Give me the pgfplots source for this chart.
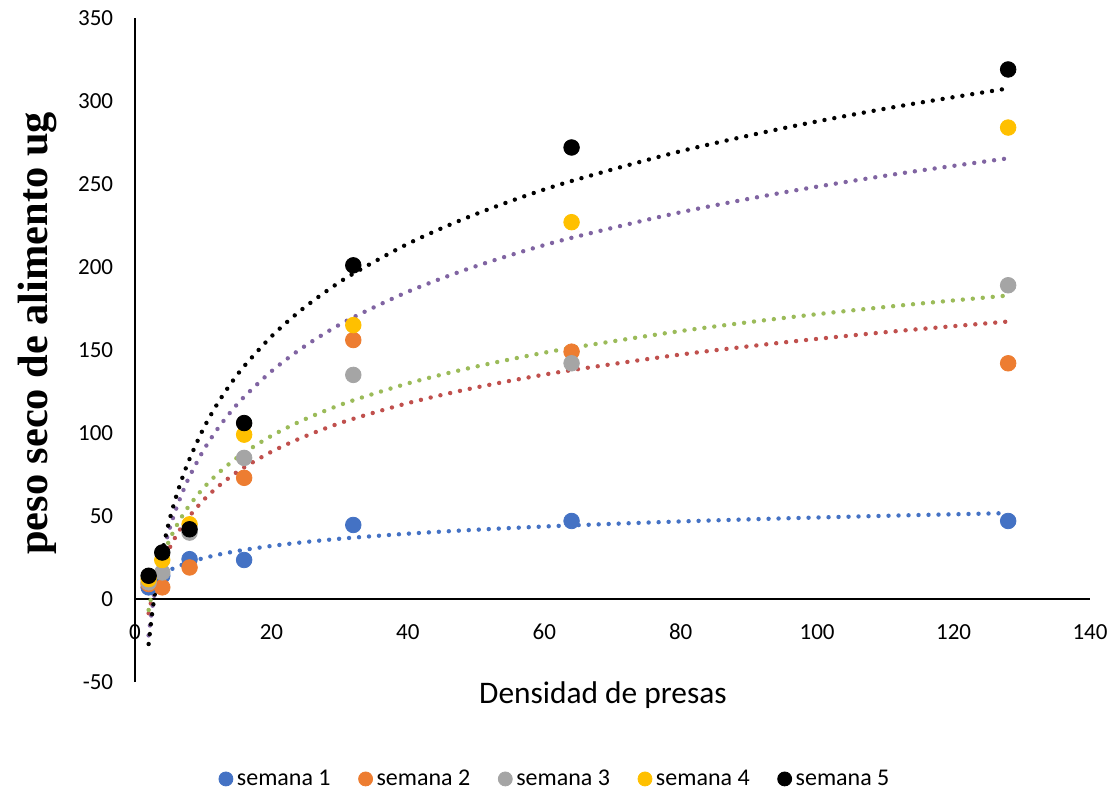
\documentclass[border=0pt]{standalone}
\usepackage{pgfplots}
\pgfplotsset{compat=1.18}
\usepackage{fontspec}
\setmainfont{Carlito}
\newfontfamily\serifbold{Liberation Serif}
\definecolor{c1}{HTML}{4472C4}
\definecolor{c2}{HTML}{ED7D31}
\definecolor{c3}{HTML}{A5A5A5}
\definecolor{c4}{HTML}{FFC000}
\definecolor{c5}{HTML}{000000}
\definecolor{t2}{HTML}{C0504D}
\definecolor{t3}{HTML}{9BBB59}
\definecolor{t4}{HTML}{8064A2}
\begin{document}
\begin{tikzpicture}
\begin{axis}[
  width=477.5pt, height=332pt, scale only axis,
  xmin=0, xmax=140, ymin=-50, ymax=350,
  axis x line=middle, axis y line=left,
  axis line style={-, black, line width=0.9pt},
  hide obscured x ticks=false, hide obscured y ticks=false,
  xtick={0,20,...,140}, ytick={-50,0,...,350},
  major tick length=0pt,
  /pgf/number format/assume math mode=true,
  tick label style={font=\fontsize{11.5}{13}\selectfont, black},
  xticklabel style={anchor=center, yshift=-16.5pt},
  yticklabel style={anchor=east, xshift=-7.4pt},
  xlabel={Densidad de presas},
  xlabel style={at={(rel axis cs:0.49,0)}, anchor=center, yshift=-6.5pt, font=\fontsize{15.7}{18}\selectfont},
  ylabel={\serifbold\bfseries peso seco de alimento ug},
  ylabel style={at={(axis description cs:-0.102,0.525)}, anchor=center, rotate=0, font=\fontsize{21.2}{25}\selectfont},
  clip=false,
  legend columns=5,
  legend style={at={(rel axis cs:0.441,-0.146)}, anchor=center, draw=none, fill=none,
    font=\fontsize{12}{14}\selectfont,
    /tikz/every even column/.append style={column sep=12pt}},
  legend cell align=left,
  legend image code/.code={\draw[#1, mark size=3.5pt] plot coordinates {(0pt,0pt)};},
]
\coordinate (A) at (rel axis cs:0,0);
\coordinate (B) at (rel axis cs:1,1);
% data points
\addplot[only marks, mark=*, mark size=3.9pt, color=c1] coordinates {(2,7) (4,14) (8,24) (16,23.5) (32,44.6) (64,47) (128,47)};
\addlegendentry{semana 1}
\addplot[only marks, mark=*, mark size=3.9pt, color=c2] coordinates {(2,9) (4,7) (8,19) (16,73) (32,156) (64,149) (128,142)};
\addlegendentry{semana 2}
\addplot[only marks, mark=*, mark size=3.9pt, color=c3] coordinates {(2,10) (4,16) (8,40) (16,85) (32,135) (64,142) (128,189)};
\addlegendentry{semana 3}
\addplot[only marks, mark=*, mark size=3.9pt, color=c4] coordinates {(2,12) (4,23.5) (8,45) (16,99) (32,165) (64,227) (128,284)};
\addlegendentry{semana 4}
\addplot[only marks, mark=*, mark size=3.9pt, color=c5] coordinates {(2,14) (4,28) (8,42) (16,106) (32,201) (64,272) (128,319)};
\addlegendentry{semana 5}
% logarithmic trend lines
\pgfplotsset{trend/.style={no markers, smooth, line width=2.2pt, line cap=round, dash pattern=on 0pt off 5pt, forget plot}}
\addplot[trend, c1] coordinates {(2,7.44) (2.5,9.82) (3,11.76) (3.5,13.40) (4,14.82) (5,17.20) (6,19.14) (7,20.78) (8,22.21) (10,24.58) (12,26.52) (14,28.17) (16,29.59) (20,31.96) (24,33.91) (28,35.55) (32,36.97) (40,39.35) (48,41.29) (56,42.93) (64,44.35) (80,46.73) (96,48.67) (112,50.31) (128,51.73)};
\addplot[trend, t2] coordinates {(2,-8.58) (2.5,0.85) (3,8.56) (3.5,15.07) (4,20.71) (5,30.14) (6,37.84) (7,44.35) (8,49.99) (10,59.42) (12,67.13) (14,73.64) (16,79.28) (20,88.71) (24,96.41) (28,102.93) (32,108.57) (40,118.00) (48,125.70) (56,132.21) (64,137.85) (80,147.28) (96,154.98) (112,161.50) (128,167.14)};
\addplot[trend, t3] coordinates {(2,-6.60) (2.5,3.57) (3,11.87) (3.5,18.90) (4,24.98) (5,35.14) (6,43.45) (7,50.47) (8,56.55) (10,66.71) (12,75.02) (14,82.04) (16,88.12) (20,98.28) (24,106.59) (28,113.61) (32,119.69) (40,129.86) (48,138.16) (56,145.19) (64,151.27) (80,161.43) (96,169.73) (112,176.76) (128,182.84)};
\addplot[trend, t4] coordinates {(2,-21.91) (2.5,-6.48) (3,6.11) (3.5,16.77) (4,25.99) (5,41.41) (6,54.01) (7,64.66) (8,73.89) (10,89.31) (12,101.91) (14,112.56) (16,121.79) (20,137.20) (24,149.81) (28,160.46) (32,169.68) (40,185.10) (48,197.70) (56,208.36) (64,217.58) (80,233.00) (96,245.59) (112,256.25) (128,265.47)};
\addplot[trend, c5] coordinates {(2,-27.12) (2.5,-9.16) (3,5.52) (3.5,17.93) (4,28.67) (5,46.62) (6,61.30) (7,73.71) (8,84.45) (10,102.41) (12,117.08) (14,129.49) (16,140.24) (20,158.19) (24,172.87) (28,185.28) (32,196.02) (40,213.98) (48,228.65) (56,241.06) (64,251.81) (80,269.76) (96,284.43) (112,296.85) (128,307.59)};
\end{axis}
\pgfresetboundingbox
\path ([shift={(-67.5pt,-57.5pt)}]A) rectangle ([shift={(13.5pt,9pt)}]B);
\end{tikzpicture}
\end{document}
